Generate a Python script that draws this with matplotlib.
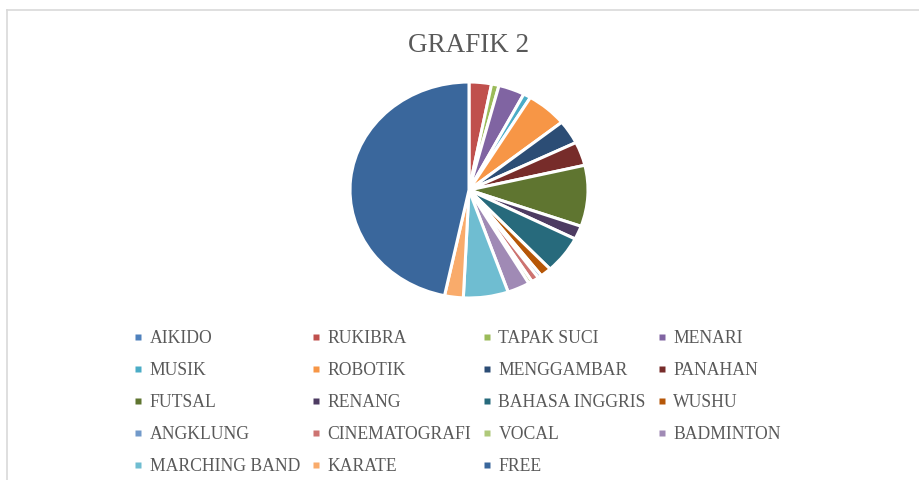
import matplotlib
matplotlib.use("Agg")
import matplotlib.pyplot as plt
from matplotlib.lines import Line2D

categories = ["AIKIDO", "RUKIBRA", "TAPAK SUCI", "MENARI", "MUSIK", "ROBOTIK",
              "MENGGAMBAR", "PANAHAN", "FUTSAL", "RENANG", "BAHASA INGGRIS", "WUSHU",
              "ANGKLUNG", "CINEMATOGRAFI", "VOCAL", "BADMINTON", "MARCHING BAND",
              "KARATE", "FREE"]
values = [0, 6, 2, 7, 2, 11, 7, 7, 18, 4, 11, 3, 1, 2, 1, 6, 12, 5, 92]
colors = ["#4F81BD", "#C0504D", "#9BBB59", "#8064A2", "#4BACC6", "#F79646",
          "#2C4D75", "#772C2A", "#5F7530", "#4D3B62", "#276A7C", "#B65708",
          "#729ACA", "#CD7371", "#AFC97A", "#A08AB5", "#6FBDD1", "#F9AB6B",
          "#3A679C"]
title = "GRAFIK 2"

W, H = 919, 480
fig = plt.figure(figsize=(W / 100, H / 100), dpi=100)
fig.patch.set_facecolor("white")

# chart border (left and top visible)
fig.add_artist(Line2D([7 / W, 7 / W], [0, 1 - 10 / H], color="#d9d9d9", lw=1.2,
                      transform=fig.transFigure))
fig.add_artist(Line2D([7 / W, 1], [1 - 10 / H, 1 - 10 / H], color="#d9d9d9", lw=1.2,
                      transform=fig.transFigure))

cx, cy, rx, ry = 469, 190, 119, 108
ax = fig.add_axes([(cx - rx) / W, 1 - (cy + ry) / H, 2 * rx / W, 2 * ry / H])
wedges, _ = ax.pie(values, colors=colors, startangle=90, counterclock=False,
                   radius=1.0, wedgeprops=dict(edgecolor="white", linewidth=2.2))
ax.set_aspect("auto")
ax.set_xlim(-1, 1)
ax.set_ylim(-1, 1)
ax.axis("off")

fig.text(cx / W, 1 - 46 / H, title, ha="center", va="center",
         fontsize=19.5, color="#595959", family="Liberation Serif")

handles = [Line2D([], [], marker="s", linestyle="none", markersize=4,
                  markerfacecolor=w.get_facecolor(), markeredgecolor="none")
           for w in wedges]
order = []
for c in range(4):
    order.extend(range(c, len(categories), 4))
leg = fig.legend([handles[i] for i in order], [categories[i] for i in order],
                 ncol=4, loc="upper left", bbox_to_anchor=(117 / W, 1 - 314 / H),
                 frameon=False, handlelength=0.6, handletextpad=0.35,
                 columnspacing=0.6, labelspacing=0.85,
                 prop=dict(family="Liberation Serif", size=12.7),
                 labelcolor="#595959")

fig.savefig("out.png", dpi=100, facecolor="white")
